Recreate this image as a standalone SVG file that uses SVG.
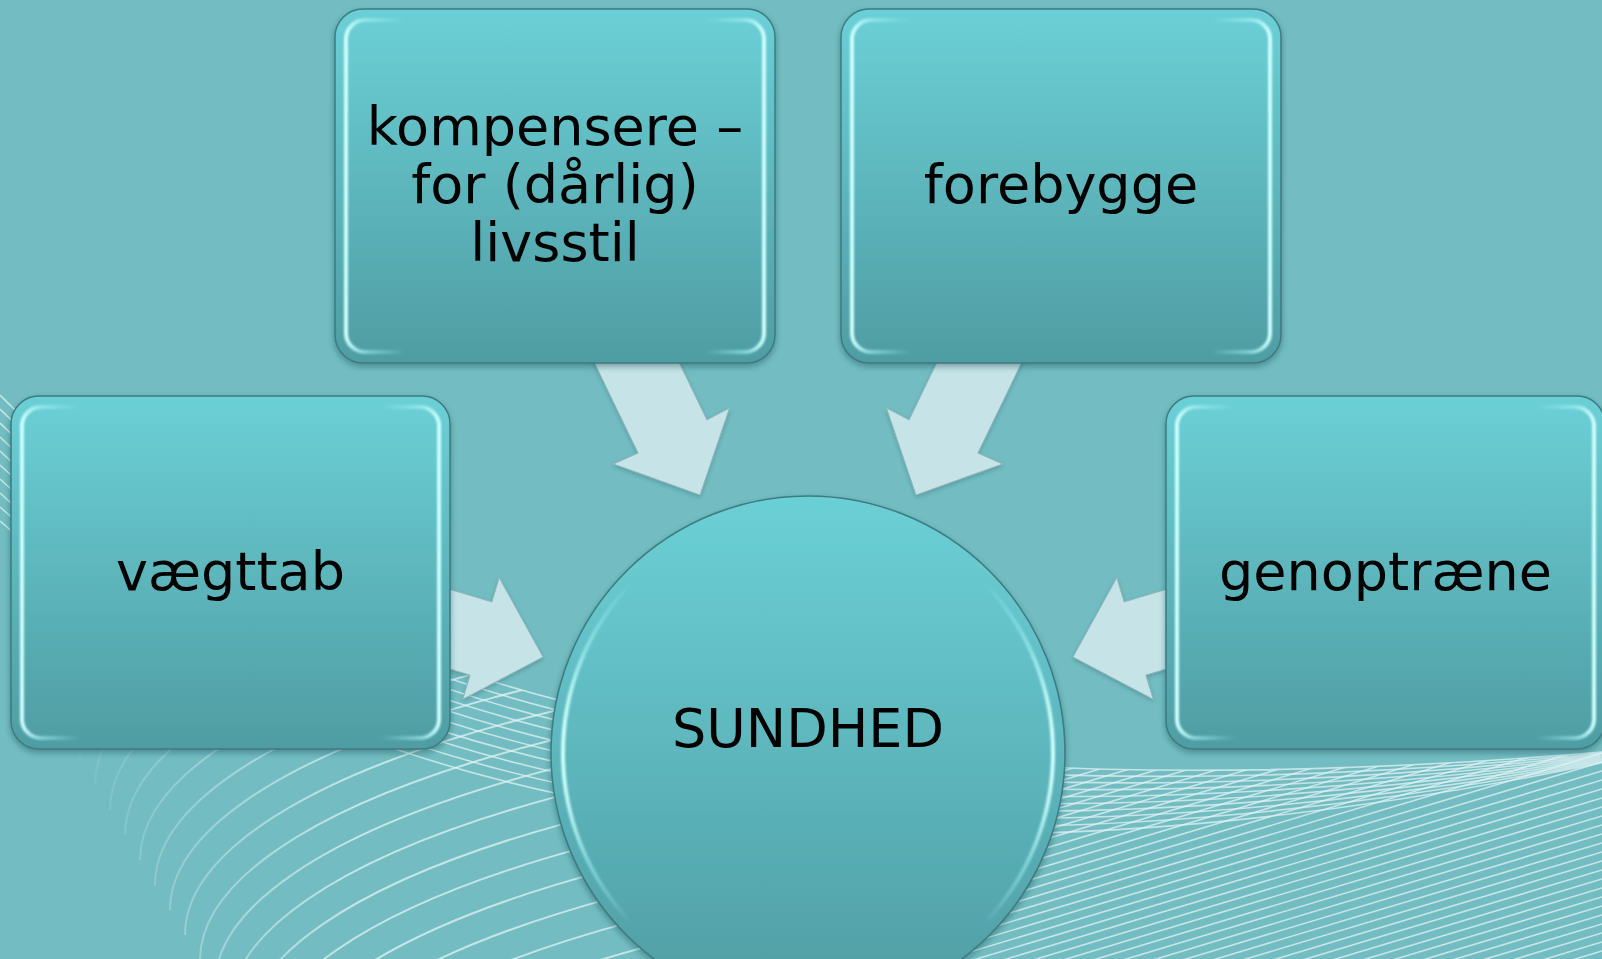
<svg xmlns="http://www.w3.org/2000/svg" width="1602" height="959" viewBox="0 0 1602 959">
<defs>
<style>
.lbl{font-family:"DejaVu Sans",Verdana,sans-serif;font-size:54px;fill:#000;text-anchor:middle}
.box{fill:url(#gBox);stroke:#3d7b80;stroke-width:1.5;filter:url(#sh)}
.bev{fill:none;stroke:url(#gBev);stroke-width:4;filter:url(#bl)}
.arr{fill:#c6e4e7;stroke:#90b7bb;stroke-width:1;filter:url(#ash)}
.wl{fill:none;stroke:#e0f3f4;stroke-width:1.6;opacity:.75}
</style>
<linearGradient id="gBox" x1="0" y1="0" x2="0" y2="1">
<stop offset="0" stop-color="#6bd0d6"/><stop offset="1" stop-color="#4f9da3"/>
</linearGradient>
<linearGradient id="gBev" x1="0" y1="0" x2="1" y2="0">
<stop offset="0" stop-color="#d0ffff" stop-opacity="1"/>
<stop offset=".05" stop-color="#a6f4f8" stop-opacity=".55"/>
<stop offset=".14" stop-color="#a6f4f8" stop-opacity="0"/>
<stop offset=".86" stop-color="#a6f4f8" stop-opacity="0"/>
<stop offset=".95" stop-color="#a6f4f8" stop-opacity=".55"/>
<stop offset="1" stop-color="#d0ffff" stop-opacity="1"/>
</linearGradient>
<linearGradient id="gFadeA" gradientUnits="userSpaceOnUse" x1="60" y1="0" x2="360" y2="0">
<stop offset="0" stop-color="#e0f3f4" stop-opacity="0"/>
<stop offset="1" stop-color="#e0f3f4" stop-opacity="1"/>
</linearGradient>
<filter id="sh" x="-5%" y="-5%" width="110%" height="115%">
<feDropShadow dx="0" dy="3" stdDeviation="3" flood-color="#1d4a4f" flood-opacity=".45"/>
</filter>
<filter id="ash" x="-10%" y="-10%" width="120%" height="125%">
<feDropShadow dx="0" dy="2" stdDeviation="2" flood-color="#2a5a5f" flood-opacity=".35"/>
</filter>
<filter id="bl"><feGaussianBlur stdDeviation="0.8"/></filter>
<clipPath id="clipA"><rect x="0" y="560" width="640" height="399"/></clipPath>
<clipPath id="belowC0"><path d="M0,395 C300,700 800,820 1602,752 L1602,959 L0,959 Z"/></clipPath>
<clipPath id="rightOnly"><rect x="880" y="0" width="722" height="959"/></clipPath>
</defs>

<rect id="background" x="0" y="0" width="1602" height="959" fill="#73bdc2"/>

<g id="background-lines">
<g clip-path="url(#belowC0)"><g clip-path="url(#clipA)">
<path fill="none" stroke="url(#gFadeA)" stroke-width="2" opacity=".75" d="M80,760A1100,300 0 0 1 1180,460 M95,785A1100,300 0 0 1 1195,485 M110,810A1100,300 0 0 1 1210,510 M125,835A1100,300 0 0 1 1225,535 M140,860A1100,300 0 0 1 1240,560 M155,885A1100,300 0 0 1 1255,585 M170,910A1100,300 0 0 1 1270,610 M185,935A1100,300 0 0 1 1285,635 M200,960A1100,300 0 0 1 1300,660 M215,985A1100,300 0 0 1 1315,685 M230,1010A1100,300 0 0 1 1330,710 M245,1035A1100,300 0 0 1 1345,735 M260,1060A1100,300 0 0 1 1360,760 M275,1085A1100,300 0 0 1 1375,785 M290,1110A1100,300 0 0 1 1390,810 M305,1135A1100,300 0 0 1 1405,835 M320,1160A1100,300 0 0 1 1420,860"/>
</g></g>
<path class="wl" d="M0,395 C300,700 800,820 1602,752 M0,409 C300,710 800,832 1602,753.2 M0,423 C300,720 800,844 1602,754.4 M0,437 C300,730 800,856 1602,755.6 M0,451 C300,740 800,868 1602,756.8 M0,465 C300,750 800,880 1602,758 M0,479 C300,760 800,892 1602,759.2 M0,493 C300,770 800,904 1602,760.4 M0,507 C300,780 800,916 1602,761.6 M0,521 C300,790 800,928 1602,762.8"/>
<g clip-path="url(#belowC0)"><g clip-path="url(#rightOnly)">
<path class="wl" d="M1602,600L880,817 M1602,609L880,826 M1602,618L880,835 M1602,627L880,844 M1602,636L880,853 M1602,645L880,862 M1602,654L880,871 M1602,663L880,880 M1602,672L880,889 M1602,681L880,898 M1602,690L880,907 M1602,699L880,916 M1602,708L880,925 M1602,717L880,934 M1602,726L880,943 M1602,735L880,952 M1602,744L880,961 M1602,753L880,970 M1602,762L880,979 M1602,771L880,988 M1602,780L880,997 M1602,789L880,1006 M1602,798L880,1015 M1602,807L880,1024 M1602,816L880,1033 M1602,825L880,1042 M1602,834L880,1051 M1602,843L880,1060 M1602,852L880,1069 M1602,861L880,1078 M1602,870L880,1087 M1602,879L880,1096 M1602,888L880,1105 M1602,897L880,1114 M1602,906L880,1123 M1602,915L880,1132 M1602,924L880,1141 M1602,933L880,1150 M1602,942L880,1159 M1602,951L880,1168"/>
</g></g>
</g>

<g id="connectors">
<polygon id="arrow-kompensere" class="arr" points="654.7,311.9 706.9,419.9 729.5,408 700,495 613.5,464 638.1,453.1 585.9,345.1"/>
<polygon id="arrow-forebygge" class="arr" points="961.3,311.9 909.1,419.9 886.5,408 916,495 1002.5,464 977.9,453.1 1030.1,345.1"/>
<polygon id="arrow-vaegttab" class="arr" points="376.9,567.6 491.9,601.9 499.2,577.7 543,657 462.8,699.3 470.1,675.1 355.1,640.8"/>
<polygon id="arrow-genoptraene" class="arr" points="1239.1,567.6 1124.1,601.9 1116.8,577.7 1073,657 1153.2,699.3 1145.9,675.1 1260.9,640.8"/>
</g>

<g id="node-kompensere">
<rect class="box" x="335" y="9" width="440" height="354" rx="28"/>
<rect class="bev" x="346" y="20" width="418" height="332" rx="19"/>
<text class="lbl" x="555" y="145">kompensere –</text>
<text class="lbl" x="555" y="203">for (dårlig)</text>
<text class="lbl" x="555" y="261">livsstil</text>
</g>

<g id="node-forebygge">
<rect class="box" x="841" y="9" width="440" height="354" rx="28"/>
<rect class="bev" x="852" y="20" width="418" height="332" rx="19"/>
<text class="lbl" x="1061" y="203">forebygge</text>
</g>

<g id="node-vaegttab">
<rect class="box" x="11" y="396" width="439" height="353" rx="28"/>
<rect class="bev" x="22" y="407" width="417" height="331" rx="19"/>
<text class="lbl" x="230.5" y="590">vægttab</text>
</g>

<g id="node-genoptraene">
<rect class="box" x="1166" y="396" width="439" height="353" rx="28"/>
<rect class="bev" x="1177" y="407" width="417" height="331" rx="19"/>
<text class="lbl" x="1385.5" y="590">genoptræne</text>
</g>

<g id="node-sundhed">
<circle class="box" cx="808" cy="753" r="257"/>
<circle class="bev" cx="808" cy="753" r="245"/>
<text class="lbl" x="808" y="747">SUNDHED</text>
</g>
</svg>
